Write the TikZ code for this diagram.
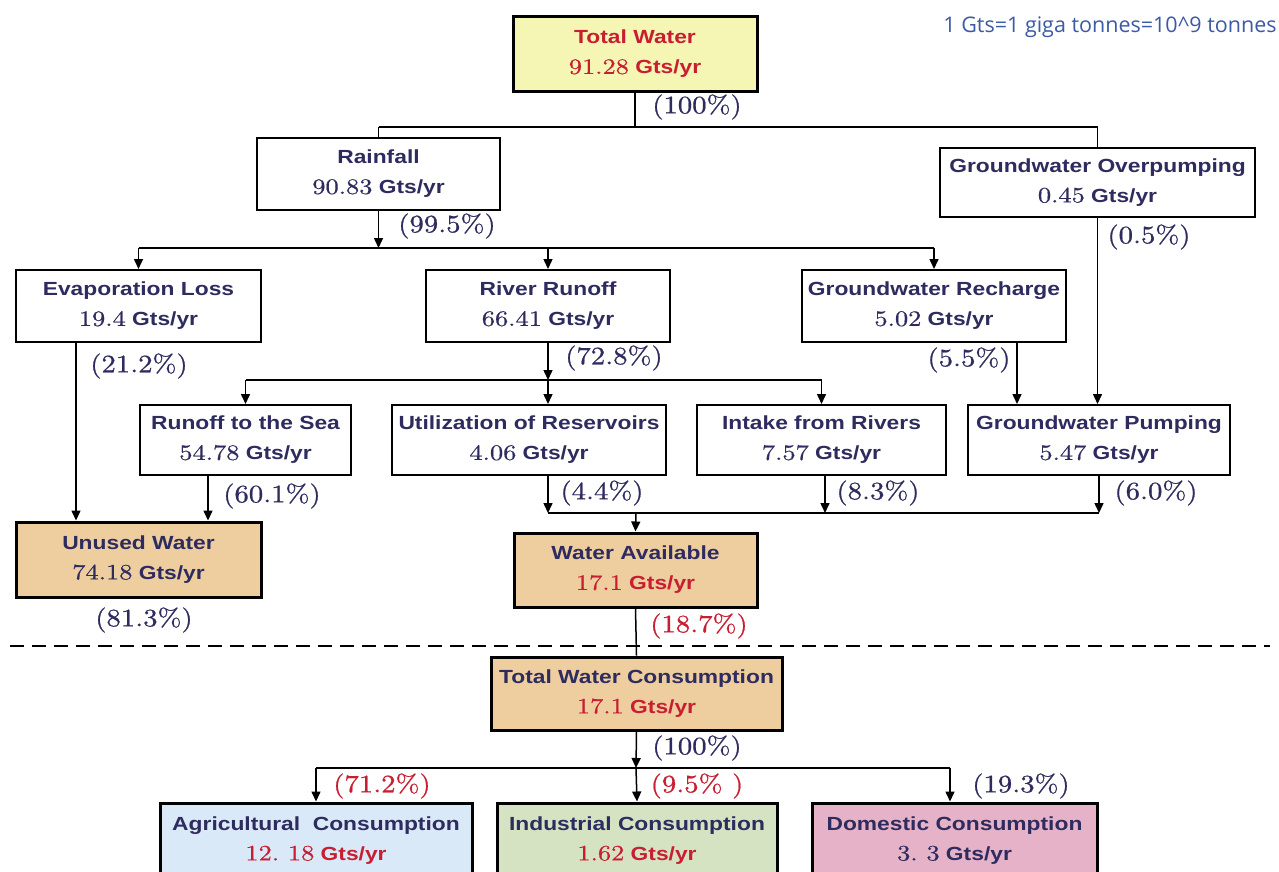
\documentclass[tikz,border=0pt]{standalone}
\usepackage{fontspec}
\usetikzlibrary{arrows.meta}
\newfontfamily\labf{Liberation Sans}[FakeStretch=1.2]
\newfontfamily\numf{lmroman10-regular.otf}[FakeStretch=1.2, FakeBold=0.6]
\newfontfamily\pctf{lmroman10-regular.otf}[FakeStretch=1.15, FakeBold=0.8]
\newfontfamily\notef{Open Sans}
\definecolor{navy}{RGB}{46,43,95}
\definecolor{wred}{RGB}{200,30,50}
\definecolor{fyellow}{RGB}{245,245,180}
\definecolor{ftan}{RGB}{238,206,158}
\definecolor{fblue}{RGB}{218,233,248}
\definecolor{fgreen}{RGB}{213,227,195}
\definecolor{fpink}{RGB}{230,178,200}
\definecolor{noteblue}{RGB}{60,90,165}
\newcommand{\myval}[1]{{\numf\fontsize{22}{30}\selectfont #1}~Gts/yr}
\tikzset{
  box/.style={draw, line width=2pt, fill=white, inner sep=0pt, align=center, text=navy,
    font=\labf\bfseries\fontsize{19}{30}\selectfont},
  bigbox/.style={box, line width=3pt},
  arr/.style={line width=1.5pt, -{Triangle[length=10pt,width=9pt]}},
  ln/.style={line width=1.5pt},
  pc/.style={text=navy, font=\pctf\fontsize{25}{25}\selectfont, inner sep=0pt},
  pcr/.style={pc, text=wred},
}
\begin{document}
\begin{tikzpicture}[x=1pt,y=-1pt]
\clip (0,0) rectangle (1279,871);
\fill[white] (0,0) rectangle (1279,871);

% boxes
\node[bigbox, fill=fyellow, text=wred, minimum width=244pt, minimum height=75pt] (tw) at (635,54) {Total Water\\ \myval{91.28}};
\node[box, minimum width=243pt, minimum height=72pt] (rain) at (378.5,174) {Rainfall\\ \myval{90.83}};
\node[box, minimum width=315pt, minimum height=69pt] (gwo) at (1097.5,182.5) {Groundwater Overpumping\\ \myval{0.45}};
\node[box, minimum width=245pt, minimum height=72pt] (evap) at (138.5,306) {Evaporation Loss\\ \myval{19.4}};
\node[box, minimum width=244pt, minimum height=72pt] (rr) at (548,306) {River Runoff\\ \myval{66.41}};
\node[box, minimum width=264pt, minimum height=72pt] (gwr) at (934,306) {Groundwater Recharge\\ \myval{5.02}};
\node[box, minimum width=211pt, minimum height=70pt] (sea) at (245.5,440) {Runoff to the Sea\\ \myval{54.78}};
\node[box, minimum width=274pt, minimum height=70pt] (res) at (529,440) {Utilization of Reservoirs\\ \myval{4.06}};
\node[box, minimum width=249pt, minimum height=70pt] (intk) at (821.5,440) {Intake from Rivers\\ \myval{7.57}};
\node[box, minimum width=262pt, minimum height=70pt] (gwp) at (1099,440) {Groundwater Pumping\\ \myval{5.47}};
\node[bigbox, fill=ftan, minimum width=245pt, minimum height=75pt] (unused) at (138.5,559.5) {Unused Water\\ \myval{74.18}};
\node[bigbox, fill=ftan, minimum width=243pt, minimum height=74pt] (wa) at (635.5,570) {Water Available\\ \textcolor{wred}{\myval{17.1}}};
\node[bigbox, fill=ftan, minimum width=291pt, minimum height=73pt] (twc) at (636.5,693.5) {Total Water Consumption\\ \textcolor{wred}{\myval{17.1}}};
\node[bigbox, fill=fblue, minimum width=312pt, minimum height=75pt] (agr) at (316,840.5) {Agricultural~~Consumption\\ \textcolor{wred}{\myval{12.~18}}};
\node[bigbox, fill=fgreen, minimum width=280pt, minimum height=75pt] (ind) at (637,840.5) {Industrial Consumption\\ \textcolor{wred}{\myval{1.62}}};
\node[bigbox, fill=fpink, minimum width=285pt, minimum height=75pt] (dom) at (954.5,840.5) {Domestic Consumption\\ \myval{3.~3}};

% note
\node[text=noteblue, font=\notef\fontsize{21.5}{22}\selectfont, inner sep=0pt] (note) at (1110,27) {1 Gts=1 giga tonnes=10\^{}9 tonnes};

% junction coordinates
\coordinate (j1) at (636,127);
\coordinate (j2) at (636,248);
\coordinate (j3) at (636,380);
\coordinate (j4) at (636,513);
\coordinate (j5) at (636,768);

% level 1
\draw[ln] (tw.south) -- (tw.south |- j1);
\draw[ln] (rain.north |- j1) -- (gwo.north |- j1);
\draw[ln] (rain.north |- j1) -- (rain.north);
\draw[ln] (gwo.north |- j1) -- (gwo.north);

% level 2
\draw[arr] (rain.south) -- (rain.south |- j2);
\draw[ln] (evap.north |- j2) -- (gwr.north |- j2);
\draw[arr] (evap.north |- j2) -- (evap.north);
\draw[arr] (rr.north |- j2) -- (rr.north);
\draw[arr] (gwr.north |- j2) -- (gwr.north);

% groundwater
\draw[arr] (gwo.south) -- (gwo.south |- gwp.north);
\path (gwr.south east) ++(-50,0) coordinate (g1);
\draw[arr] (g1) -- (g1 |- gwp.north);

% evaporation to unused
\path (evap.south west) ++(61,0) coordinate (e1);
\draw[arr] (e1) -- (e1 |- unused.north);

% river runoff
\draw[arr] (rr.south) -- (rr.south |- j3);
\draw[ln] (sea.north |- j3) -- (intk.north |- j3);
\draw[arr] (sea.north |- j3) -- (sea.north);
\draw[arr] (rr.south |- j3) -- (rr.south |- res.north);
\draw[arr] (intk.north |- j3) -- (intk.north);

% runoff to sea -> unused
\path (sea.south west) ++(69,0) coordinate (s1);
\draw[arr] (s1) -- (s1 |- unused.north);

% to water available
\path (rr.south |- res.south) coordinate (r1);
\path (intk.south) ++(3.5,0) coordinate (i1);
\draw[arr] (r1) -- (r1 |- j4);
\draw[arr] (i1) -- (i1 |- j4);
\draw[arr] (gwp.south) -- (gwp.south |- j4);
\draw[ln] (r1 |- j4) -- (gwp.south |- j4);
\draw[arr] (j4) -- (wa.north);

% to consumption
\draw[ln] (wa.south) -- (twc.north);
\draw[line width=2.2pt, dash pattern=on 14pt off 8pt] (10,646) -- (1270,646);
\draw[arr] (twc.south) -- (j5);
\path (dom.north) ++(-4.5,0) coordinate (d1);
\draw[ln] (agr.north |- j5) -- (d1 |- j5);
\draw[arr] (agr.north |- j5) -- (agr.north);
\draw[arr] (j5) -- (ind.north);
\draw[arr] (d1 |- j5) -- (d1);

% percentages
\node[pc] (p1) at (697,107) {(100\%)};
\node[pc] (p2) at (447,226) {(99.5\%)};
\node[pc] (p3) at (1149,237) {(0.5\%)};
\node[pc] (p4) at (139,366) {(21.2\%)};
\node[pc] (p5) at (614,358) {(72.8\%)};
\node[pc] (p6) at (969,360) {(5.5\%)};
\node[pc] (p7) at (272,496) {(60.1\%)};
\node[pc] (p8) at (602,493) {(4.4\%)};
\node[pc] (p9) at (878,493) {(8.3\%)};
\node[pc] (p10) at (1156,493) {(6.0\%)};
\node[pc] (p11) at (144,620) {(81.3\%)};
\node[pcr] (p12) at (699,626) {(18.7\%)};
\node[pc] (p13) at (697,748) {(100\%)};
\node[pcr] (p14) at (382,786) {(71.2\%)};
\node[pcr] (p15) at (697,786) {(9.5\%~)};
\node[pc] (p16) at (1021,786) {(19.3\%)};
\end{tikzpicture}
\end{document}
